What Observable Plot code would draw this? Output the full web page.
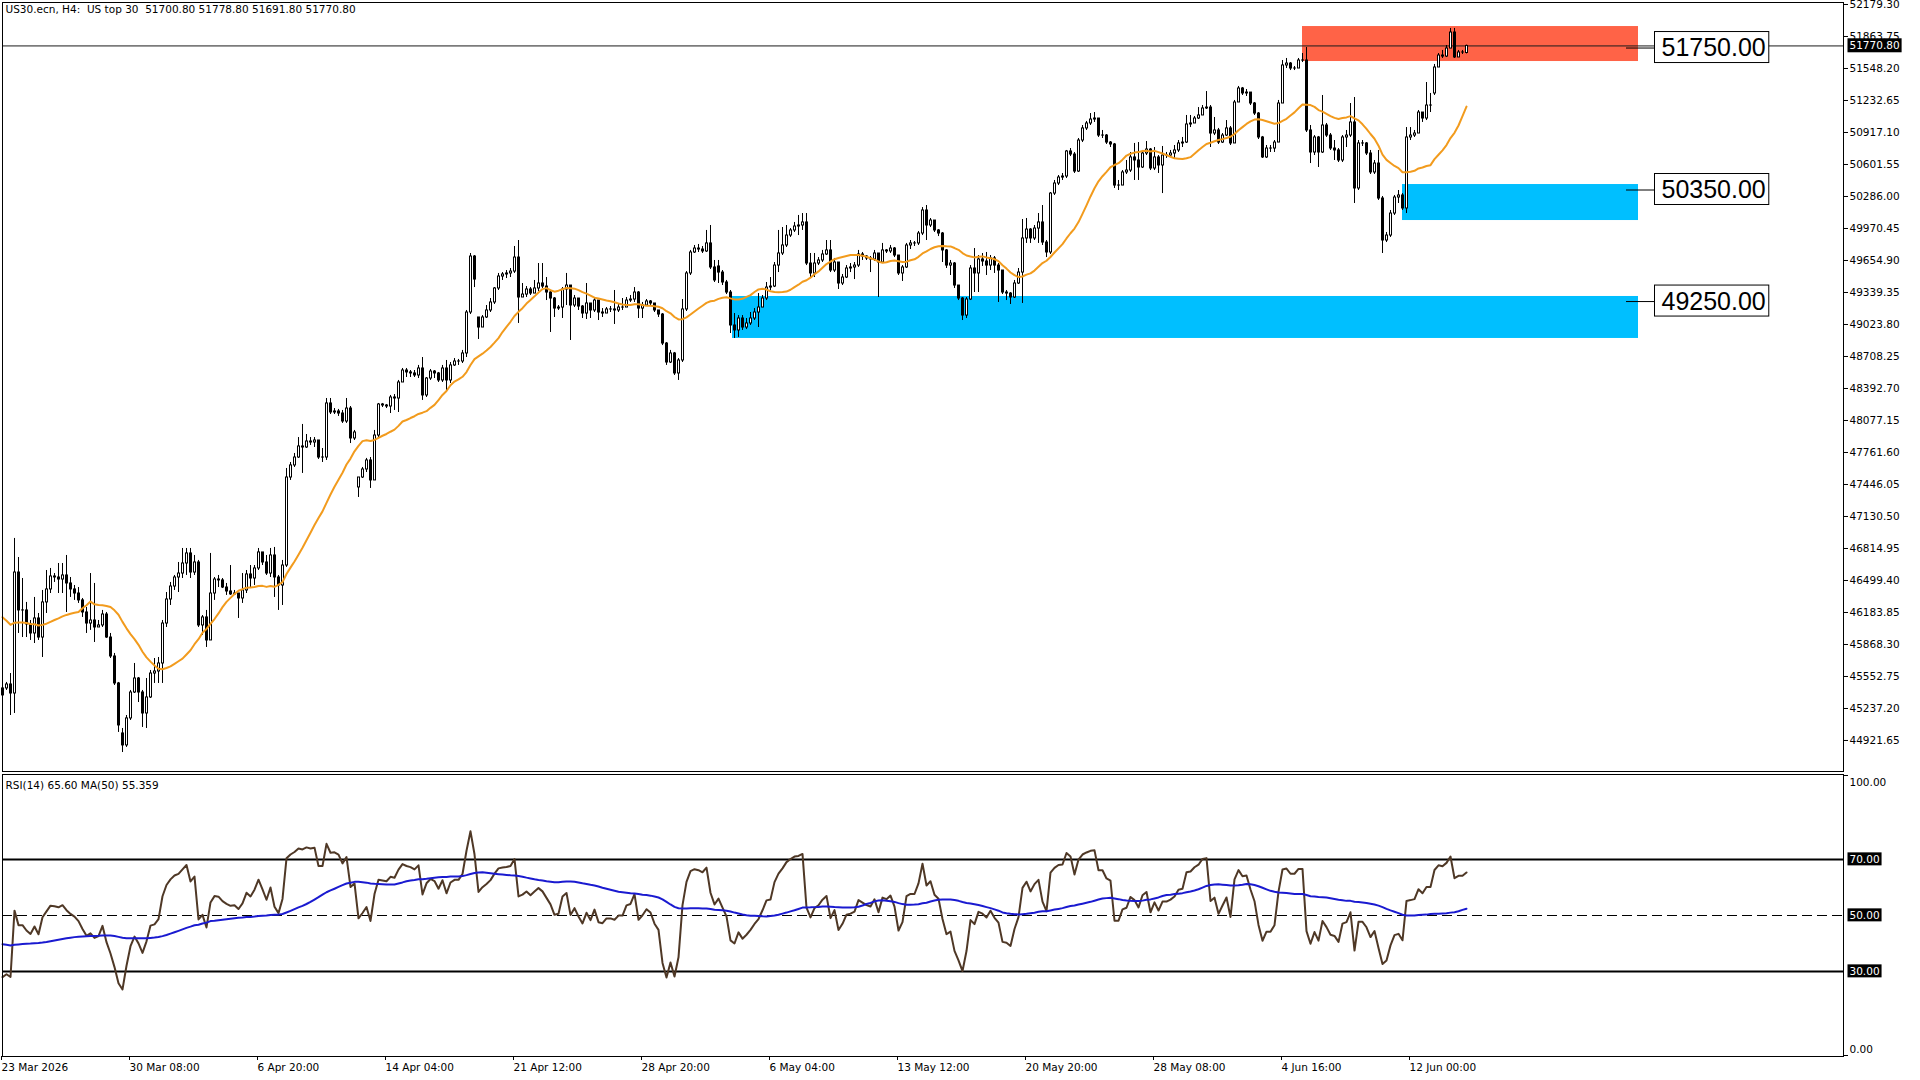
<!DOCTYPE html>
<html>
<head>
<meta charset="utf-8">
<script src="https://cdn.jsdelivr.net/npm/d3@7"></script>
<script src="https://cdn.jsdelivr.net/npm/@observablehq/plot@0.6"></script>
<style>
html, body { margin: 0; padding: 0; background: #fff; }
#root { position: relative; width: 1920px; height: 1080px; overflow: hidden; background: #fff; }
#root svg { position: absolute; left: 0; }
svg text { white-space: pre; }
</style>
</head>
<body>
<div id="root"></div>
<script>
// ---------- DATA ----------
const symbolTitle = "US30.ecn, H4:  US top 30  51700.80 51778.80 51691.80 51770.80";
const rsiTitle = "RSI(14) 65.60 MA(50) 55.359";

// H4 bars, one value per bar (index 0 = 23 Mar 2026 00:00)
const close = [
45435,45474,45385,46578,46204,46204,46066,45977,46125,45937,
46283,46411,46539,46529,46509,46549,46470,46411,46371,46303,
46184,46075,46105,46036,46056,46164,45937,45750,45484,45070,
44873,45139,45395,45533,45395,45188,45346,45582,45602,45681,
46075,46312,46440,46529,46568,46667,46766,46578,46677,46056,
46135,45908,46371,46509,46500,46430,46391,46362,46371,46322,
46401,46559,46519,46618,46776,46677,46568,46746,46529,46450,
46647,47515,47634,47712,47821,47811,47870,47860,47880,47712,
47712,48245,48156,48166,48146,48067,48195,47900,47959,47515,
47594,47683,47486,47929,48235,48225,48215,48304,48294,48452,
48570,48551,48541,48521,48590,48324,48491,48560,48541,48472,
48590,48472,48620,48659,48659,48738,49142,49694,49467,48994,
49093,49162,49241,49379,49497,49517,49527,49546,49684,49290,
49319,49369,49329,49379,49428,49398,49339,49280,49181,49191,
49369,49408,49211,49280,49201,49132,49231,49162,49260,49142,
49132,49172,49172,49162,49191,49191,49260,49270,49339,49181,
49211,49251,49231,49162,49122,48836,48649,48738,48541,48669,
49172,49527,49734,49773,49763,49744,49823,49586,49458,49536,
49438,49339,49014,48965,49083,48994,49034,49083,49142,49191,
49280,49388,49398,49605,49724,49803,49901,49951,49990,50000,
50030,49625,49527,49625,49655,49714,49754,49556,49635,49428,
49487,49576,49586,49605,49714,49694,49675,49665,49724,49635,
49754,49744,49773,49704,49527,49586,49803,49823,49823,49921,
50148,50000,50049,49951,49921,49754,49605,49625,49408,49280,
49112,49270,49576,49527,49665,49645,49605,49675,49605,49556,
49339,49329,49290,49428,49536,49872,49960,49872,49970,50030,
49832,49734,50315,50414,50473,50483,50730,50700,50532,50838,
50957,51006,51045,51055,50887,50887,50818,50799,50394,50394,
50523,50542,50671,50641,50572,50710,50749,50562,50671,50592,
50690,50690,50710,50740,50809,50818,50996,51006,51055,51085,
51154,51163,50907,50937,50818,50887,50957,50809,51213,51351,
51302,51311,51203,51104,50868,50671,50759,50759,50818,51203,
51578,51597,51548,51548,51627,51627,50937,50720,50868,50720,
50986,50887,50759,50740,50641,50868,50887,51016,50365,50809,
50809,50710,50523,50611,50266,49852,49901,50118,50276,50296,
50168,50868,50887,50907,51114,51055,51183,51183,51558,51676,
51666,51745,51903,51657,51706,51706,51770.8
];
const high = [
45484,45494,45582,46914,46726,46519,46283,46105,46332,46174,
46401,46598,46618,46568,46667,46667,46746,46529,46450,46430,
46322,46233,46568,46470,46105,46204,46184,45977,45780,45494,
45040,45168,45415,45681,45543,45415,45533,45612,45730,45740,
46105,46381,46480,46549,46677,46815,46815,46815,46746,46697,
46154,46204,46766,46529,46549,46519,46470,46647,46401,46371,
46568,46598,46647,46647,46815,46776,46746,46815,46825,46549,
46697,47604,47663,47752,47909,48038,47939,47909,47909,47880,
47801,48294,48294,48195,48186,48176,48294,48215,47979,47515,
47614,47703,47712,47979,48245,48245,48235,48324,48333,48472,
48590,48590,48570,48570,48620,48698,48501,48580,48570,48551,
48620,48669,48649,48688,48679,48768,49162,49724,49704,49093,
49112,49211,49280,49388,49527,49536,49556,49576,49793,49852,
49428,49398,49388,49458,49625,49625,49487,49359,49290,49211,
49388,49527,49408,49310,49280,49211,49428,49231,49280,49211,
49181,49191,49201,49359,49221,49280,49290,49310,49388,49349,
49241,49270,49260,49211,49162,49132,48846,48768,48748,48688,
49270,49546,49754,49803,49813,49793,49951,50000,49655,49655,
49556,49458,49359,49132,49112,49112,49083,49142,49181,49329,
49310,49438,49487,49635,49951,49980,50000,49970,50030,50099,
50118,50118,49724,49724,49684,49754,49852,49852,49675,49635,
49517,49605,49625,49635,49754,49734,49704,49694,49754,49724,
49823,49763,49803,49783,49704,49605,49823,49852,49842,49941,
50177,50197,50069,50049,49960,49931,49763,49655,49635,49398,
49290,49290,49605,49773,49704,49724,49734,49704,49694,49625,
49556,49359,49339,49458,49576,50059,50069,49970,50000,50118,
50197,49852,50325,50444,50493,50513,50740,50759,50720,50858,
50986,51026,51104,51114,51035,50937,50897,50828,50809,50444,
50542,50641,50720,50809,50818,50740,50828,50759,50769,50690,
50779,50720,50740,50789,50838,50868,51085,51085,51075,51163,
51183,51321,51183,51065,50957,50907,51035,50976,51233,51371,
51361,51341,51311,51213,51114,50878,50789,50789,50838,51233,
51627,51647,51607,51568,51647,51696,51755,50986,50887,50878,
51282,51006,50907,50838,50759,50887,50937,51203,51262,50838,
50838,50818,50740,50641,50740,50286,49931,50148,50296,50345,
50315,50966,50966,50937,51134,51114,51410,51302,51588,51696,
51726,51775,51943,51943,51726,51726,51778.8
];
const low = [
45296,45415,45168,45188,45977,45937,45937,45908,45878,45908,
45740,46174,46371,46480,46371,46371,46184,46332,46303,46273,
46135,45977,46007,45888,46036,46036,45928,45730,45464,45001,
44803,44853,45119,45385,45296,45050,45040,45336,45484,45484,
45484,46036,46253,46401,46381,46519,46549,46519,46549,46036,
45957,45839,45908,46303,46430,46420,46352,46352,46352,46125,
46273,46371,46420,46450,46598,46647,46549,46529,46332,46204,
46253,46628,47486,47614,47703,47555,47801,47831,47811,47693,
47663,47683,48136,48136,48117,48048,48048,47850,47880,47318,
47505,47564,47407,47486,47909,48205,48195,48146,48176,48156,
48452,48501,48501,48501,48491,48275,48304,48472,48491,48452,
48452,48373,48442,48610,48620,48639,48698,49122,49388,48876,
48994,49083,49142,49221,49359,49458,49477,49487,49527,49034,
49290,49290,49310,49329,49349,49379,49260,48945,49093,49162,
49083,49211,48866,49191,49162,49083,49073,49083,49142,49063,
49093,49132,49142,49024,49142,49162,49201,49241,49241,49083,
49083,49211,49201,49142,49093,48816,48620,48639,48521,48472,
48649,49152,49507,49724,49734,49724,49734,49566,49438,49428,
49408,49319,48935,48886,48896,48965,48974,49014,49063,48994,
49191,49260,49359,49388,49536,49704,49783,49882,49931,49901,
49951,49605,49477,49487,49605,49635,49704,49536,49536,49369,
49408,49477,49536,49467,49586,49655,49655,49536,49645,49290,
49625,49724,49724,49684,49507,49448,49576,49763,49793,49803,
49901,49852,49980,49931,49891,49635,49576,49507,49379,49260,
49063,49083,49260,49339,49339,49596,49507,49556,49527,49241,
49319,49260,49221,49280,49418,49231,49823,49823,49852,49823,
49803,49684,49714,50296,50394,50444,50463,50680,50513,50523,
50818,50937,50986,51016,50868,50858,50799,50769,50365,50345,
50394,50503,50523,50444,50444,50562,50690,50542,50542,50513,
50315,50661,50671,50661,50720,50769,50809,50966,51016,51045,
51085,51144,50769,50887,50799,50809,50878,50789,50809,51213,
51282,51272,51183,51085,50848,50661,50661,50720,50720,50818,
51203,51548,51528,51528,51548,51607,50917,50611,50690,50572,
50710,50868,50740,50641,50621,50621,50769,50868,50217,50345,
50779,50690,50503,50503,50247,49724,49832,49882,50099,50217,
50148,50118,50838,50868,50907,51016,51035,51114,51282,51558,
51647,51657,51745,51647,51676,51686,51691.8
];
// Opening prices that differ from the previous close (first bar and weekend gaps)
const firstOpen = 45366;
const gapOpens = {30: 44991, 89: 47417, 119: 49093, 179: 49596, 358: 51302, 366: 51700.8};

// Indicator values at the first visible bar (history before the window)
const priceMaStart = 46174;   // MA(20) on price at bar 0
const rsiStart = 28;          // RSI(14) at bar 0
const rsiMaStart = 40;        // MA(50) of RSI at bar 0

const priceTicks = [52179.30, 51863.75, 51548.20, 51232.65, 50917.10, 50601.55, 50286.00, 49970.45,
  49654.90, 49339.35, 49023.80, 48708.25, 48392.70, 48077.15, 47761.60, 47446.05, 47130.50,
  46814.95, 46499.40, 46183.85, 45868.30, 45552.75, 45237.20, 44921.65];

const dateTickIndex = [0, 32, 64, 96, 128, 160, 192, 224, 256, 288, 320, 352];
const dateTickLabels = ["23 Mar 2026", "30 Mar 08:00", "6 Apr 20:00", "14 Apr 04:00", "21 Apr 12:00",
  "28 Apr 20:00", "6 May 04:00", "13 May 12:00", "20 May 20:00", "28 May 08:00", "4 Jun 16:00", "12 Jun 00:00"];

// Zones: price bounds and bar-index span
const zoneKind  = ["supply", "demand", "demand"];
const zoneTop   = [51962, 50404, 49300];
const zoneBottom= [51617, 50049, 48886];
const zoneStart = [325, 350, 182.5];
const zoneEnd   = [409, 409, 409];
const zoneLevel = [51750, 50350, 49250];

const rsiLevels = [70, 50, 30];

// ---------- BUILD ----------
const n = Math.min(close.length, high.length, low.length);
const bars = d3.range(n).map(i => {
  const open = gapOpens[i] ?? (i === 0 ? firstOpen : close[i - 1]);
  return {i, open, close: close[i], high: high[i], low: low[i], up: close[i] >= open};
});
const lastClose = close[n - 1];

const zones = zoneTop.map((t, j) => ({kind: zoneKind[j], top: t, bottom: zoneBottom[j], start: zoneStart[j], end: zoneEnd[j], level: zoneLevel[j]}));
const zoneColor = {supply: "#ff6347", demand: "#00bfff"};

// simple moving average; the part of the window before bar 0 takes the start value
function sma(values, k, startValue) {
  return values.map((_, i) => {
    const from = Math.max(0, i - k + 1);
    let s = 0;
    for (let j = from; j <= i; j++) s += values[j];
    return (s + startValue * (k - (i - from + 1))) / k;
  });
}

// RSI(14), Wilder smoothing, starting from the RSI read at bar 0
const rsi = [rsiStart];
{
  const first = d3.range(1, 15).map(i => Math.abs(close[i] - close[i - 1]));
  const avgMove = d3.mean(first);
  let ag = avgMove * rsiStart / 100, al = avgMove * (1 - rsiStart / 100);
  for (let i = 1; i < n; i++) {
    const ch = close[i] - close[i - 1];
    ag = (ag * 13 + Math.max(ch, 0)) / 14;
    al = (al * 13 + Math.max(-ch, 0)) / 14;
    rsi.push(al === 0 ? 100 : 100 - 100 / (1 + ag / al));
  }
}
const rsiMa = sma(rsi, 50, rsiMaStart);
const priceMa = sma(close.slice(0, n), 20, priceMaStart);
const rsiRows = rsi.map((v, i) => ({i, v, ma: rsiMa[i]}));
bars.forEach((d, i) => d.ma = priceMa[i]);

const xDomain = [0, 460.25];
const baseStyle = {fontFamily: "'DejaVu Sans', sans-serif", fontSize: "10.5px", color: "#000", background: "transparent", overflow: "visible"};

const main = Plot.plot({
  width: 1920, height: 772,
  marginLeft: 2, marginRight: 77, marginTop: 2, marginBottom: 1,
  x: {domain: xDomain, axis: null},
  y: {domain: [44615.8, 52199.0], axis: null},
  style: baseStyle,
  marks: [
    Plot.rect(zones, {x1: "start", x2: "end", y1: "bottom", y2: "top", fill: d => zoneColor[d.kind]}),
    Plot.ruleY([lastClose], {stroke: "#1a1a1a", strokeWidth: 1}),
    Plot.ruleX(bars, {x: "i", y1: "high", y2: "low", stroke: "#000", strokeWidth: 1}),
    Plot.ruleX(bars, {x: "i", y1: d => Math.max(d.open, d.close), y2: d => Math.min(d.open, d.close),
      stroke: "#000", strokeWidth: 3, insetTop: -0.5, insetBottom: -0.5}),
    Plot.ruleX(bars.filter(d => d.up && d.close - d.open > 12), {x: "i", y1: "close", y2: "open",
      stroke: "#fff", strokeWidth: 1, insetTop: 0.5, insetBottom: 0.5}),
    Plot.lineY(bars, {x: "i", y: "ma", stroke: "#f29b1d", strokeWidth: 2}),
    Plot.ruleY(zones, {y: "level", x1: d => d.end - 3, x2: d => d.end + 4, stroke: "#000", strokeWidth: 1}),
    Plot.text(zones, {x: d => d.end + 4, y: "level", text: d => d.level.toFixed(2), textAnchor: "start", dx: 7,
      fontFamily: "'Liberation Sans', Arial, sans-serif", fontSize: 25, fill: "#000"}),
    Plot.frame({stroke: "#000"}),
    Plot.axisY({ticks: priceTicks, anchor: "right", tickSize: 4, tickPadding: 2, tickFormat: d => d.toFixed(2), label: null}),
    Plot.text([lastClose], {y: d => d, frameAnchor: "right", dx: 6, textAnchor: "start", fill: "#fff", text: d => d.toFixed(2)}),
    Plot.text([symbolTitle], {frameAnchor: "top-left", dx: 3, dy: 3, lineAnchor: "top", textAnchor: "start"})
  ]
});

const rsiPlot = Plot.plot({
  width: 1920, height: 308,
  marginLeft: 2, marginRight: 77, marginTop: 2, marginBottom: 24,
  x: {domain: xDomain, axis: null},
  y: {domain: [-0.357, 100.357], axis: null},
  style: baseStyle,
  marks: [
    Plot.ruleY([70, 30], {stroke: "#000", strokeWidth: 2}),
    Plot.ruleY([50], {stroke: "#000", strokeWidth: 1, strokeDasharray: "10,5"}),
    Plot.lineY(rsiRows, {x: "i", y: "v", stroke: "#4f3826", strokeWidth: 2}),
    Plot.lineY(rsiRows, {x: "i", y: "ma", stroke: "#1a1ad0", strokeWidth: 2}),
    Plot.frame({stroke: "#000"}),
    Plot.axisX({ticks: dateTickIndex, anchor: "bottom", tickSize: 4, tickPadding: 3, textAnchor: "start", dx: -1,
      tickFormat: d => dateTickLabels[dateTickIndex.indexOf(d)], label: null}),
    Plot.axisY({ticks: [100, 0], anchor: "right", tickSize: 4, tickFormat: () => "", label: null}),
    Plot.text([100], {y: d => d, frameAnchor: "right", dx: 6, dy: 7, textAnchor: "start", text: d => d.toFixed(2)}),
    Plot.text([0], {y: d => d, frameAnchor: "right", dx: 6, dy: -6, textAnchor: "start", text: d => d.toFixed(2)}),
    Plot.text(rsiLevels, {y: d => d, frameAnchor: "right", dx: 6, textAnchor: "start", fill: "#fff", text: d => d.toFixed(2)}),
    Plot.text([rsiTitle], {frameAnchor: "top-left", dx: 3, dy: 7, lineAnchor: "top", textAnchor: "start"})
  ]
});

const root = document.getElementById("root");
main.style.top = "0px";
rsiPlot.style.top = "772px";
root.appendChild(main);
root.appendChild(rsiPlot);

// Boxes behind label texts
function boxTexts(svg, labels, {padL, padR, h, fill, stroke}) {
  d3.select(svg).selectAll("text").each(function () {
    if (!labels.includes(this.textContent)) return;
    const b = this.getBBox();
    const node = this;
    const r = d3.select(this.parentNode).insert("rect", () => node)
      .attr("x", b.x - padL).attr("y", b.y + b.height / 2 - h / 2)
      .attr("width", b.width + padL + padR).attr("height", h)
      .attr("fill", fill);
    if (stroke) r.attr("stroke", stroke).attr("stroke-width", 1);
    const tf = this.getAttribute("transform");
    if (tf) r.attr("transform", tf);
  });
}
boxTexts(main, zones.map(z => z.level.toFixed(2)), {padL: 7, padR: 3, h: 31, fill: "#fff", stroke: "#000"});
boxTexts(main, [lastClose.toFixed(2)], {padL: 2, padR: 2, h: 14, fill: "#000"});
boxTexts(rsiPlot, rsiLevels.map(d => d.toFixed(2)), {padL: 2, padR: 2, h: 13, fill: "#000"});
</script>
</body>
</html>
